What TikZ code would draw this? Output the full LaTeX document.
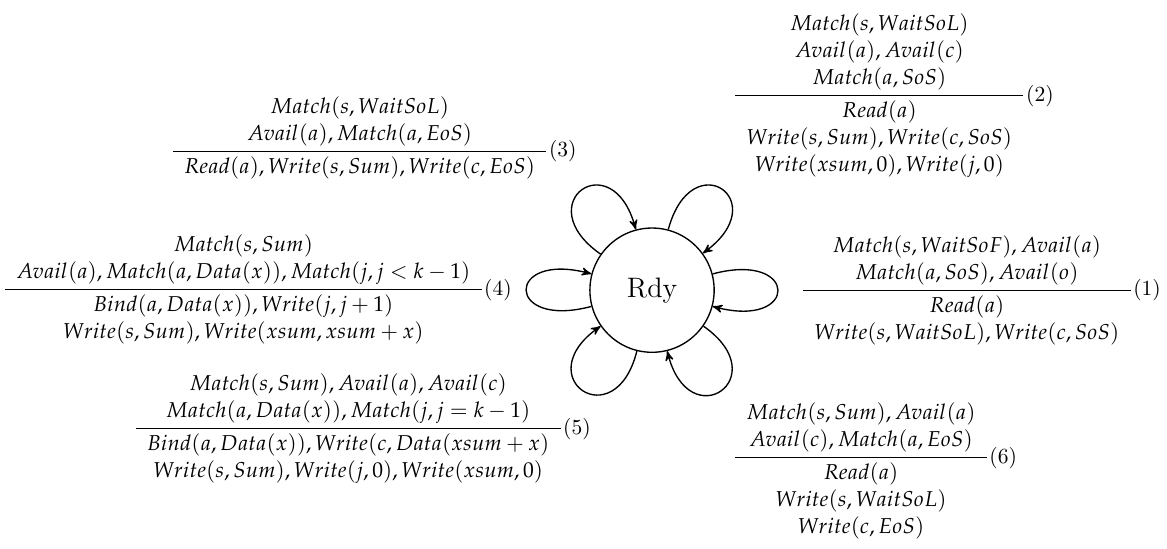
\documentclass[tikz,border=0pt]{standalone}
\usepackage{mathpazo}
\usepackage{amsmath}
\usetikzlibrary{shapes,arrows,positioning,calc}

\newcommand{\trule}[3]{$\dfrac{\begin{array}{c}#1\end{array}}{\begin{array}{c}#2\end{array}}$(#3)}

\tikzset{
    stnode/.style={circle, draw, semithick, minimum size=19.4mm, font=\fontsize{12.5pt}{15pt}\selectfont},
    rulenode/.style={inner sep=0pt, anchor=base west, font=\fontsize{9.56pt}{12pt}\selectfont},
    loopline/.style={semithick, ->, >=stealth'},
}

\begin{document}
\begin{tikzpicture}
    \useasboundingbox (-101.8mm,-40.3mm) rectangle (80.4mm,45.3mm);
    \node[stnode] (rdy) at (0,0) {Rdy};
    % self loops, clockwise
    \foreach \o/\i in {15/345, 75/36, 145/105, 195/165, 256/215, 325/284}
        \draw[loopline] (rdy.\o) to[out=\o, in=\i, distance=14mm] (rdy.\i);
    % rules
    \node[rulenode] (r1) at (23.1mm,-0.9mm) {\trule{Match(s,WaitSoF), Avail(a)\\ Match(a,SoS), Avail(o)}{Read(a)\\ Write(s,WaitSoL), Write(c,SoS)}{1}};
    \node[rulenode] (r2) at (12.5mm,29.5mm) {\trule{Match(s,WaitSoL)\\ Avail(a), Avail(c)\\ Match(a,SoS)}{Read(a)\\ Write(s,Sum), Write(c,SoS)\\ Write(xsum,0), Write(j,0)}{2}};
    \node[rulenode] (r3) at (-75.3mm,20.8mm) {\trule{Match(s,WaitSoL)\\ Avail(a), Match(a,EoS)}{Read(a), Write(s,Sum), Write(c,EoS)}{3}};
    \node[rulenode] (r4) at (-101.5mm,-0.8mm) {\trule{Match(s,Sum)\\ Avail(a), Match(a,Data(x)), Match(j,j<k-1)}{Bind(a,Data(x)), Write(j,j+1)\\ Write(s,Sum), Write(xsum,xsum+x)}{4}};
    \node[rulenode] (r5) at (-81.1mm,-22.5mm) {\trule{Match(s,Sum), Avail(a), Avail(c)\\ Match(a,Data(x)), Match(j,j=k-1)}{Bind(a,Data(x)), Write(c,Data(xsum+x)\\ Write(s,Sum), Write(j,0), Write(xsum,0)}{5}};
    \node[rulenode] (r6) at (12.5mm,-27.0mm) {\trule{Match(s,Sum), Avail(a)\\ Avail(c), Match(a,EoS)}{Read(a)\\ Write(s,WaitSoL)\\ Write(c,EoS)}{6}};
\end{tikzpicture}
\end{document}
